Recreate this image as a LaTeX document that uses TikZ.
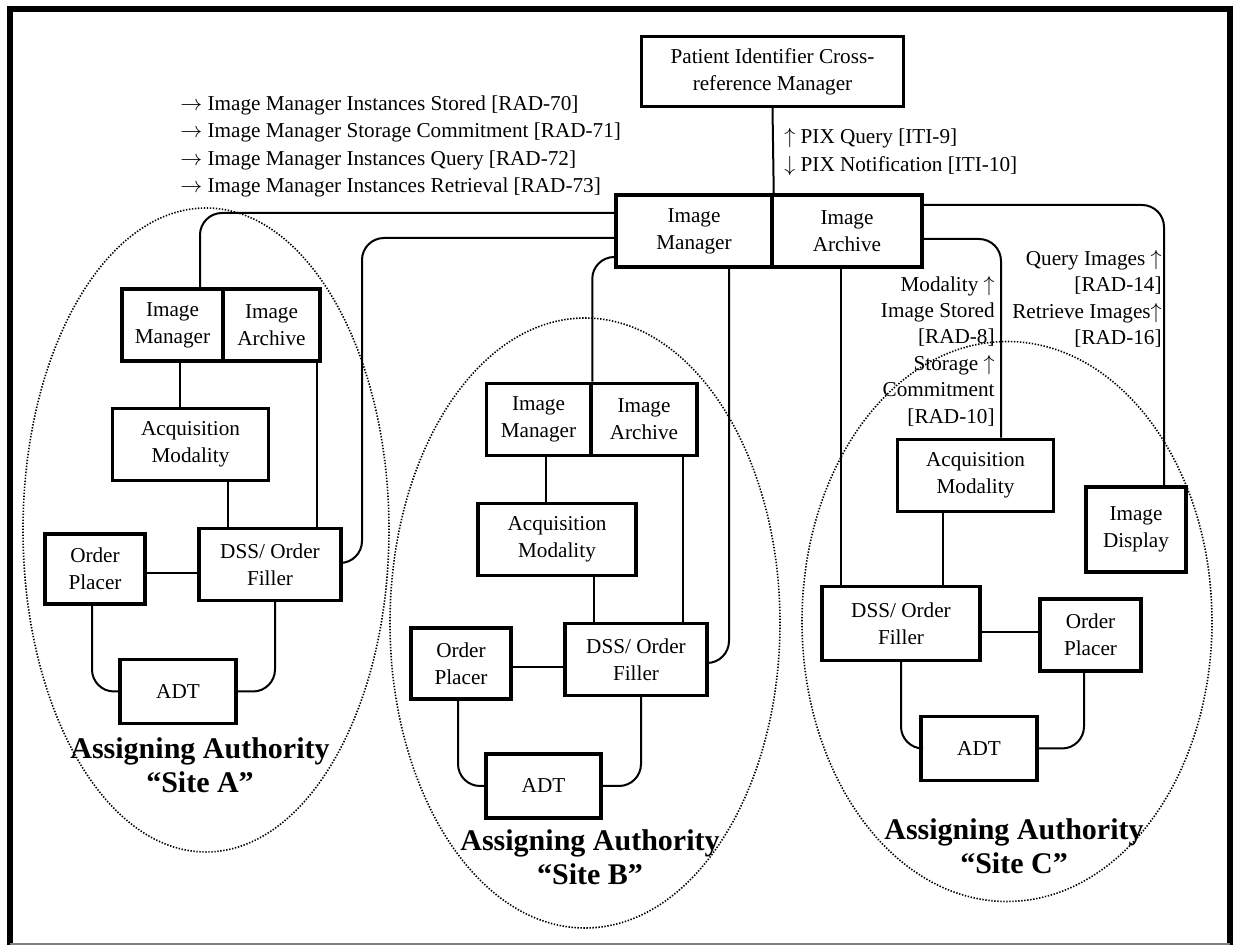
\documentclass[tikz,border=0pt]{standalone}
\usepackage{fontspec}
\setmainfont{Liberation Serif}
\tikzset{font=\fontsize{10.6}{13.6}\selectfont}
\tikzset{actor/.style={draw,line width=1.75pt,align=center,inner sep=0pt},
  link/.style={line width=1pt,rounded corners=11pt},
  siteline/.style={line width=0.8pt,dash pattern=on 0.7pt off 0.8pt},
  sitename/.style={font=\bfseries\fontsize{15}{17}\selectfont,align=center,inner sep=0pt},
  msgtext/.style={inner sep=0pt}}

\begin{document}
\begin{tikzpicture}[x=0.5pt,y=-0.5pt]
      \useasboundingbox (0,0) rectangle (1233,945);
      \draw[line width=3pt] (10,945) -- (10,9.5) -- (1230,9.5) -- (1230,945);
      \draw[gray,line width=0.8pt] (10,944) -- (1230,944);

      \draw[siteline] (206,530) ellipse [x radius=91.5pt, y radius=161pt];
      \draw[siteline] (585,623) ellipse [x radius=97.5pt, y radius=152.5pt];
      \draw[siteline] (1007,621.5) ellipse [x radius=102.5pt, y radius=140pt];

      \node[actor,minimum width=131pt,minimum height=35pt] (PIX) at (772.5,71.5) {Patient Identifier Cross-\\reference Manager};
      \node[actor,minimum width=78pt,minimum height=36pt] (IM) at (694,231) {Image\\Manager};
      \node[actor,minimum width=75pt,minimum height=36pt] (IA) at (847,231) {Image\\Archive};

      \node[actor,minimum width=50.5pt,minimum height=36pt] (IMA) at (172.5,325) {Image\\Manager};
      \node[actor,minimum width=48.5pt,minimum height=36pt] (IAA) at (271.5,325) {Image\\Archive};
      \node[actor,minimum width=78pt,minimum height=36pt] (AMA) at (190.5,444.5) {Acquisition\\Modality};
      \node[actor,minimum width=71pt,minimum height=36pt] (DSSA) at (270,564.5) {DSS/ Order\\Filler};
      \node[actor,minimum width=50pt,minimum height=35pt] (OPA) at (95,569) {Order\\Placer};
      \node[actor,minimum width=58pt,minimum height=32pt] (ADTA) at (178,691.5) {ADT};

      \node[actor,minimum width=52pt,minimum height=36pt] (IMB) at (538.5,419.5) {Image\\Manager};
      \node[actor,minimum width=53pt,minimum height=36pt] (IAB) at (644,419.5) {Image\\Archive};
      \node[actor,minimum width=79pt,minimum height=36pt] (AMB) at (557,539.5) {Acquisition\\Modality};
      \node[actor,minimum width=71pt,minimum height=36pt] (DSSB) at (636,659.5) {DSS/ Order\\Filler};
      \node[actor,minimum width=50pt,minimum height=35.5pt] (OPB) at (461,663.5) {Order\\Placer};
      \node[actor,minimum width=57.5pt,minimum height=32pt] (ADTB) at (543.5,786) {ADT};

      \node[actor,minimum width=78pt,minimum height=36pt] (AMC) at (975.5,475.5) {Acquisition\\Modality};
      \node[actor,minimum width=50pt,minimum height=42.5pt] (IDC) at (1136,529.5) {Image\\Display};
      \node[actor,minimum width=79pt,minimum height=37pt] (DSSC) at (901,623.5) {DSS/ Order\\Filler};
      \node[actor,minimum width=50.5pt,minimum height=36pt] (OPC) at (1090.5,635) {Order\\Placer};
      \node[actor,minimum width=58pt,minimum height=32pt] (ADTC) at (979,748.5) {ADT};

      \node[sitename] (SA) at (200,765) {Assigning Authority\\``Site A''};
      \node[sitename] (SB) at (590,857) {Assigning Authority\\``Site B''};
      \node[sitename] (SC) at (1014,846.5) {Assigning Authority\\``Site C''};

      \node[msgtext,anchor=west,align=left] (RAD) at (180,146.5) {$\rightarrow$ Image Manager Instances Stored [RAD-70]\\
        $\rightarrow$ Image Manager Storage Commitment [RAD-71]\\
        $\rightarrow$ Image Manager Instances Query [RAD-72]\\
        $\rightarrow$ Image Manager Instances Retrieval [RAD-73]};
      \node[msgtext,anchor=west,align=left] (ITI) at (784,152) {$\uparrow$ PIX Query [ITI-9]\\$\downarrow$ PIX Notification [ITI-10]};
      \node[msgtext,anchor=east,align=right,font=\fontsize{10.6}{13.2}\selectfont] (MOD) at (995,351) {Modality $\uparrow$\\Image Stored\\[0pt][RAD-8]\\Storage $\uparrow$\\Commitment\\[0pt][RAD-10]};
      \node[msgtext,anchor=east,align=right,font=\fontsize{10.6}{13.2}\selectfont] (QRY) at (1162,299) {Query Images $\uparrow$\\[0pt][RAD-14]\\Retrieve Images$\uparrow$\\[0pt][RAD-16]};

      \draw[link] (PIX.south) -- (IM.north east);
      \draw[link] (IM.west |- 0,213) -| (IMA.north -| 200,0);
      \draw[link] (IM.west |- 0,238) -| (362,563) -- (DSSA.east |- 0,563);
      \draw[link] (IM.west |- 0,257) -| (IMB.north east);
      \draw[link] (IM.south -| 729,0) |- (DSSB.east |- 0,663);
      \draw[link] (IA.south -| 841,0) -- (DSSC.north -| 841,0);
      \draw[link] (IA.east |- 0,239) -| (AMC.north -| 1001,0);
      \draw[link] (IA.east |- 0,205) -| (IDC.north -| 1164,0);

      \draw[link] (IMA.south -| 180,0) -- (AMA.north -| 180,0);
      \draw[link] (AMA.south -| 228,0) -- (DSSA.north -| 228,0);
      \draw[link] (IAA.south -| 317,0) -- (DSSA.north -| 317,0);
      \draw[link] (OPA.east |- 0,573) -- (DSSA.west |- 0,573);
      \draw[link] (OPA.south -| 92,0) |- (ADTA.west);
      \draw[link] (DSSA.south -| 275,0) |- (ADTA.east);

      \draw[link] (IMB.south -| 546,0) -- (AMB.north -| 546,0);
      \draw[link] (AMB.south -| 594,0) -- (DSSB.north -| 594,0);
      \draw[link] (IAB.south -| 683,0) -- (DSSB.north -| 683,0);
      \draw[link] (OPB.east |- 0,667) -- (DSSB.west |- 0,667);
      \draw[link] (OPB.south -| 458,0) |- (ADTB.west);
      \draw[link] (DSSB.south -| 641,0) |- (ADTB.east);

      \draw[link] (AMC.south -| 943,0) -- (DSSC.north -| 943,0);
      \draw[link] (DSSC.east |- 0,632) -- (OPC.west |- 0,632);
      \draw[link] (DSSC.south) |- (ADTC.west);
      \draw[link] (OPC.south -| 1084,0) |- (ADTC.east);
\end{tikzpicture}
\end{document}
